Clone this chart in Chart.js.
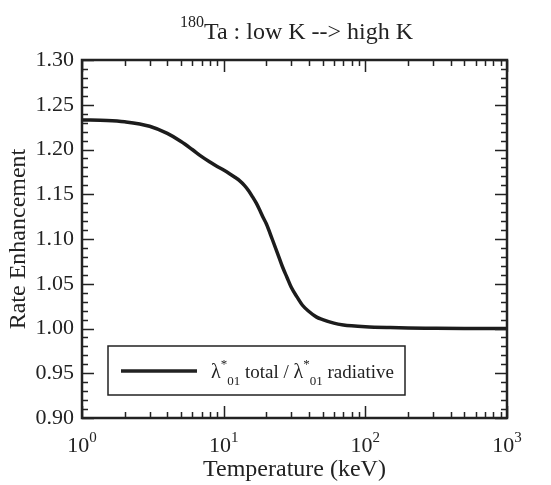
<!DOCTYPE html>
<html>
<head>
<meta charset="utf-8">
<script src="https://cdn.jsdelivr.net/npm/chart.js@4.4.1/dist/chart.umd.min.js"></script>
<style>
  html, body { margin: 0; padding: 0; background: #fff; }
  #wrap { width: 551px; height: 485px; }
</style>
</head>
<body>
<div id="wrap"><canvas id="rateChart" width="551" height="485"></canvas></div>
<script>
// temperature in keV (log axis)
var temps = [1, 1.5, 2, 3, 4, 5, 6, 7, 8, 9, 10, 11, 12, 13, 14, 15, 16, 17, 18, 19, 20,
             22, 24, 26, 28, 30, 33, 36, 40, 45, 50, 60, 70, 80, 100, 150, 200, 300, 500, 1000];
// lambda*01 total / lambda*01 radiative
var ratio = [1.233, 1.2325, 1.231, 1.226, 1.218, 1.209, 1.200, 1.192, 1.186, 1.181, 1.177,
             1.173, 1.169, 1.165, 1.160, 1.154, 1.147, 1.140, 1.132, 1.124, 1.117,
             1.100, 1.084, 1.069, 1.057, 1.046, 1.035, 1.026, 1.019, 1.013, 1.010,
             1.006, 1.004, 1.003, 1.002, 1.001, 1.0005, 1.0003, 1.0001, 1.000];
var xDecades = [1, 10, 100, 1000];
var xExponents = ["0", "1", "2", "3"];
var yMajor = [0.90, 0.95, 1.00, 1.05, 1.10, 1.15, 1.20, 1.25, 1.30];

var FONT = "'Liberation Serif', 'Times New Roman', serif";
var INK = "#222";

function font(size) { return size + "px " + FONT; }

// draws a run of text pieces [text, size, dy] starting at x, returns width
function drawPieces(ctx, pieces, x, y, measureOnly) {
  var w = 0;
  pieces.forEach(function (p) {
    ctx.font = font(p[1]);
    if (!measureOnly) ctx.fillText(p[0], x + w, y + (p[2] || 0));
    w += ctx.measureText(p[0]).width;
  });
  return w;
}

var framePlugin = {
  id: "frame",
  afterDraw: function (chart) {
    var ctx = chart.ctx;
    var a = chart.chartArea;
    var xs = chart.scales.x, ys = chart.scales.y;
    ctx.save();
    ctx.strokeStyle = INK;
    ctx.fillStyle = INK;

    // ticks, inward on all four sides
    ctx.lineWidth = 1.5;
    ctx.beginPath();
    for (var d = 0; d < xDecades.length; d++) {
      for (var m = 1; m < 10; m++) {
        var v = xDecades[d] * m;
        if (v > 1000) break;
        var px = Math.round(xs.getPixelForValue(v)) + 0.5;
        var len = m === 1 ? 12 : 6;
        ctx.moveTo(px, a.bottom); ctx.lineTo(px, a.bottom - len);
        ctx.moveTo(px, a.top); ctx.lineTo(px, a.top + len);
      }
    }
    for (var k = 0; k <= 40; k++) {
      var yv = 0.90 + k * 0.01;
      var py = Math.round(ys.getPixelForValue(yv)) + 0.5;
      var ylen = k % 5 === 0 ? 12 : 6;
      ctx.moveTo(a.left, py); ctx.lineTo(a.left + ylen, py);
      ctx.moveTo(a.right, py); ctx.lineTo(a.right - ylen, py);
    }
    ctx.stroke();

    // frame
    ctx.lineWidth = 2.5;
    ctx.strokeRect(a.left, a.top, a.right - a.left, a.bottom - a.top);

    // x tick labels 10^n
    ctx.textBaseline = "alphabetic";
    xDecades.forEach(function (v, i) {
      var pieces = [["10", 22, 0], [xExponents[i], 15, -10]];
      var w = drawPieces(ctx, pieces, 0, 0, true);
      drawPieces(ctx, pieces, xs.getPixelForValue(v) - w / 2, 452);
    });

    // x axis title
    ctx.font = font(24);
    ctx.textAlign = "center";
    ctx.fillText("Temperature (keV)", (a.left + a.right) / 2, 476);

    // y axis title
    ctx.save();
    ctx.translate(25, (a.top + a.bottom) / 2);
    ctx.rotate(-Math.PI / 2);
    ctx.fillText("Rate Enhancement", 0, 0);
    ctx.restore();

    // title with superscript mass number
    ctx.textAlign = "left";
    var tPieces = [["180", 16, -12], ["Ta : low K --> high K", 24, 0]];
    var tw = drawPieces(ctx, tPieces, 0, 0, true);
    drawPieces(ctx, tPieces, (a.left + a.right) / 2 - tw / 2 + 2, 39);

    // legend box
    var lx = 108, ly = 346, lw = 297, lh = 49;
    ctx.fillStyle = "#fff";
    ctx.fillRect(lx, ly, lw, lh);
    ctx.lineWidth = 1.5;
    ctx.strokeStyle = INK;
    ctx.strokeRect(lx, ly, lw, lh);
    ctx.lineWidth = 3.5;
    ctx.beginPath();
    ctx.moveTo(121, 371); ctx.lineTo(197, 371);
    ctx.stroke();
    ctx.fillStyle = INK;
    var lPieces = [["\u03bb", 20, 0], ["*", 13, -10], ["01", 13, 7], [" total / ", 19, 0],
                   ["\u03bb", 20, 0], ["*", 13, -10], ["01", 13, 7], [" radiative", 19, 0]];
    drawPieces(ctx, lPieces, 211, 378);

    ctx.restore();
  }
};

var points = temps.map(function (t, i) { return { x: t, y: ratio[i] }; });

new Chart(document.getElementById("rateChart"), {
  type: "line",
  data: {
    datasets: [{
      label: "lambda*01 total / lambda*01 radiative",
      data: points,
      borderColor: "#1c1c1c",
      borderWidth: 3.5,
      pointRadius: 0,
      fill: false,
      cubicInterpolationMode: "monotone"
    }]
  },
  options: {
    responsive: false,
    animation: false,
    events: [],
    layout: { padding: { top: 60, right: 44, left: 0, bottom: 0 } },
    plugins: {
      legend: { display: false },
      title: { display: false },
      tooltip: { enabled: false }
    },
    scales: {
      x: {
        type: "logarithmic",
        min: 1,
        max: 1000,
        grid: { display: false },
        border: { display: false },
        ticks: { display: false },
        afterFit: function (scale) { scale.height = 67; }
      },
      y: {
        type: "linear",
        min: 0.90,
        max: 1.30,
        grid: { display: false, drawTicks: false },
        border: { display: false },
        afterBuildTicks: function (scale) {
          scale.ticks = yMajor.map(function (v) { return { value: v }; });
        },
        ticks: {
          color: INK,
          padding: 8,
          font: { family: FONT, size: 22 },
          callback: function (v) { return Number(v).toFixed(2); }
        },
        afterFit: function (scale) { scale.width = 82; }
      }
    }
  },
  plugins: [framePlugin]
});
</script>
</body>
</html>
